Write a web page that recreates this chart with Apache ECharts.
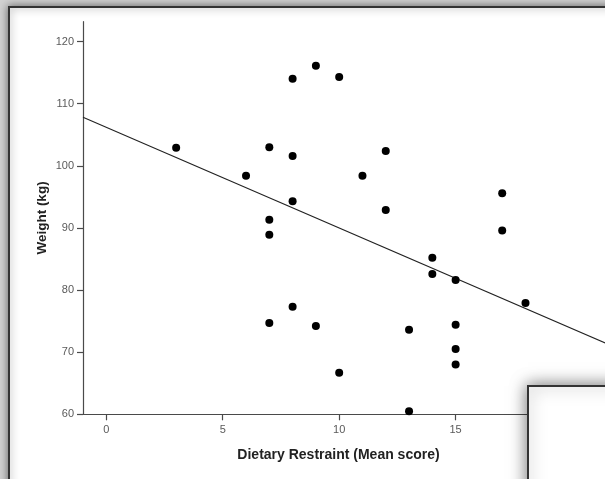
<!DOCTYPE html>
<html>
<head>
<meta charset="utf-8">
<script src="https://cdn.jsdelivr.net/npm/echarts@6/dist/echarts.min.js"></script>
<style>
  html, body { margin: 0; padding: 0; }
  #chart { width: 605px; height: 479px; }
</style>
</head>
<body>
<div id="chart"></div>
<script>
// dietary restraint (mean score) vs weight (kg)
const restraint = [3, 6, 7, 7, 7, 7, 8, 8, 8, 8, 9, 9, 10, 10, 11, 12, 12, 13, 13, 14, 14, 15, 15, 15, 15, 17, 17, 18];
const weight = [102.9, 98.4, 103.0, 91.3, 88.9, 74.7, 114.0, 101.6, 94.3, 77.3, 116.1, 74.2, 114.3, 66.7, 98.4,
  102.4, 92.9, 73.6, 60.5, 85.2, 82.6, 81.6, 74.4, 70.5, 68.0, 95.6, 89.6, 77.9];
const xTicks = [0, 5, 10, 15, 20];
const yTicks = [60, 70, 80, 90, 100, 110, 120];
// fit line as drawn in the picture
const fitIntercept = 106.2;
const fitSlope = -1.62;

const xMin = -1, xMax = 21.5;
const yMin = 60, yMax = 123.2;

const points = restraint.map((x, i) => [x, weight[i]]);
const fitLine = [xMin, xMax].map(x => [x, fitIntercept + fitSlope * x]);

const chart = echarts.init(document.getElementById('chart'));

const axisCommon = {
  type: 'value',
  splitLine: { show: false },
  nameMoveOverlap: false,
  axisLine: { show: true, onZero: false, lineStyle: { color: '#4a4a4a', width: 1.2 } },
  axisTick: { show: true, length: 6, lineStyle: { color: '#4a4a4a', width: 1.2 } },
  nameTextStyle: { fontFamily: 'Liberation Sans', fontWeight: 'bold', fontSize: 13.5, color: '#222' }
};
const labelStyle = { fontFamily: 'Liberation Sans', fontSize: 11, color: '#5a5a5a' };

chart.setOption({
  backgroundColor: '#d2d2d2',
  animation: false,
  graphic: [
    {
      type: 'rect', z: -10,
      shape: { x: 9, y: 7, width: 700, height: 600 },
      style: { fill: '#fff', stroke: '#333', lineWidth: 2, shadowBlur: 8, shadowColor: 'rgba(0,0,0,0.5)' }
    },
    {
      type: 'rect', z: 100,
      shape: { x: 528, y: 386, width: 200, height: 200 },
      style: { fill: '#fff', stroke: '#333', lineWidth: 2, shadowBlur: 16, shadowColor: 'rgba(0,0,0,0.55)' }
    }
  ],
  grid: { left: 83, top: 21.7, width: 524, height: 392.6, outerBoundsMode: 'none' },
  xAxis: Object.assign({}, axisCommon, {
    min: xMin, max: xMax,
    name: 'Dietary Restraint (Mean score)',
    nameLocation: 'middle', nameGap: 34,
    nameTextStyle: Object.assign({}, axisCommon.nameTextStyle, { fontSize: 14, padding: [0, 13, 0, 0] }),
    axisTick: Object.assign({}, axisCommon.axisTick, { customValues: xTicks }),
    axisLabel: Object.assign({ customValues: xTicks, margin: 10 }, labelStyle)
  }),
  yAxis: Object.assign({}, axisCommon, {
    min: yMin, max: yMax,
    name: 'Weight (kg)',
    nameLocation: 'middle', nameGap: 34,
    axisTick: Object.assign({}, axisCommon.axisTick, { customValues: yTicks }),
    axisLabel: Object.assign({ customValues: yTicks, margin: 9 }, labelStyle)
  }),
  series: [
    {
      type: 'line',
      data: fitLine,
      symbol: 'none',
      lineStyle: { color: '#222', width: 1.1 },
      z: 2
    },
    {
      type: 'scatter',
      data: points,
      symbolSize: 8,
      itemStyle: { color: '#000', opacity: 1 },
      z: 3
    }
  ]
});
</script>
</body>
</html>
